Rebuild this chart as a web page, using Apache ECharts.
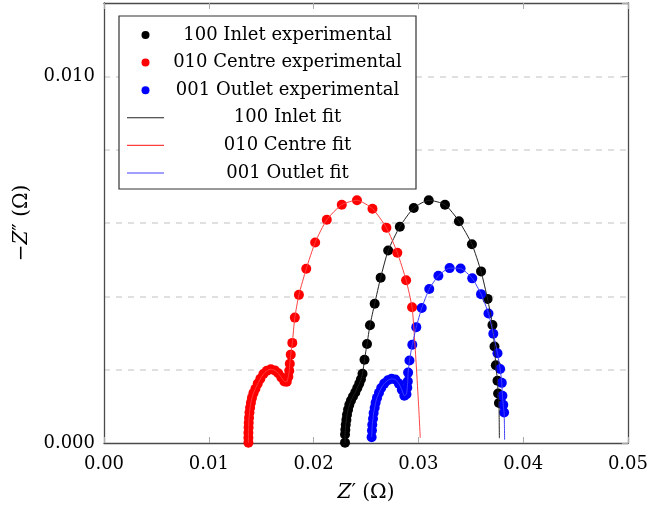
<!DOCTYPE html>
<html><head><meta charset="utf-8">
<script src="https://cdn.jsdelivr.net/npm/echarts@6/dist/echarts.min.js"></script>
<style>html,body{margin:0;padding:0;background:#fff}#c{width:651px;height:508px}</style>
</head><body><div id="c"></div><script>
// ---- data ----
const seriesNames = ['100 Inlet experimental','010 Centre experimental','001 Outlet experimental','100 Inlet fit','010 Centre fit','001 Outlet fit'];
const xTickLabels = ['0.00','0.01','0.02','0.03','0.04','0.05'];
const yTickLabels = ['0.000','0.010'];

const inletX = [0.02300,0.02300,0.02303,0.02307,0.02313,0.02319,0.02329,0.02341,0.02357,0.02376,0.02398,0.02417,0.02436,0.02452,0.02467,0.02486,0.02510,0.02538,0.02583,0.02640,0.02712,0.02823,0.02956,0.03099,0.03254,0.03387,0.03511,0.03598,0.03660,0.03707,0.03726,0.03739,0.03755,0.03761,0.03769];
const inletY = [0.00001,0.00023,0.00036,0.00050,0.00063,0.00077,0.00091,0.00104,0.00116,0.00127,0.00138,0.00150,0.00162,0.00174,0.00189,0.00227,0.00270,0.00321,0.00380,0.00451,0.00525,0.00590,0.00641,0.00662,0.00650,0.00605,0.00542,0.00468,0.00393,0.00322,0.00263,0.00212,0.00170,0.00135,0.00109];

const centreX = [0.01378,0.01378,0.01378,0.01380,0.01381,0.01384,0.01388,0.01394,0.01402,0.01412,0.01426,0.01445,0.01467,0.01492,0.01521,0.01554,0.01592,0.01630,0.01663,0.01692,0.01721,0.01744,0.01759,0.01768,0.01773,0.01782,0.01797,0.01821,0.01860,0.01930,0.02015,0.02126,0.02269,0.02414,0.02562,0.02695,0.02799,0.02883,0.02940];
const centreY = [0.00001,0.00014,0.00028,0.00042,0.00055,0.00069,0.00083,0.00096,0.00110,0.00123,0.00136,0.00148,0.00162,0.00175,0.00188,0.00197,0.00201,0.00198,0.00190,0.00179,0.00168,0.00167,0.00181,0.00197,0.00216,0.00241,0.00273,0.00342,0.00404,0.00475,0.00547,0.00609,0.00650,0.00662,0.00639,0.00587,0.00519,0.00444,0.00370];

const outletX = [0.02554,0.02557,0.02560,0.02567,0.02573,0.02583,0.02592,0.02605,0.02624,0.02645,0.02674,0.02709,0.02744,0.02780,0.02814,0.02842,0.02866,0.02886,0.02894,0.02899,0.02902,0.02915,0.02942,0.02980,0.03032,0.03104,0.03191,0.03298,0.03403,0.03514,0.03598,0.03669,0.03715,0.03755,0.03780,0.03796,0.03802,0.03810,0.03818];
const outletY = [0.00016,0.00034,0.00050,0.00066,0.00082,0.00096,0.00110,0.00123,0.00137,0.00150,0.00162,0.00171,0.00175,0.00173,0.00162,0.00145,0.00129,0.00133,0.00151,0.00168,0.00192,0.00225,0.00268,0.00316,0.00368,0.00420,0.00456,0.00477,0.00476,0.00449,0.00406,0.00353,0.00298,0.00245,0.00202,0.00164,0.00129,0.00104,0.00083];

// fit curves: follow the experimental points, then continue to these end points
const inletFitTailX = [0.03771,0.03773];
const inletFitTailY = [0.00070,0.00013];
const centreFitTailX = [0.02961,0.02980,0.03002,0.03018];
const centreFitTailY = [0.00295,0.00211,0.00104,0.00014];
const outletFitTailX = [0.03821,0.03823];
const outletFitTailY = [0.00050,0.00009];

// ---- build ----
const zip = (xs, ys) => xs.map((x, i) => [x, ys[i]]);
const FONT = 'DejaVu Serif';
const lblStyle = {fontFamily: FONT, fontSize: 18, color: '#000'};
const frame = {show: true, onZero: false, lineStyle: {color: '#4a4a4a', width: 1.3}};
const tickIn = {show: true, inside: true, length: 6, lineStyle: {color: '#aaa', width: 1}};
const LINE_ICON = 'path://M0,0H37V1.1H0Z';

const chart = echarts.init(document.getElementById('c'), null, {renderer: 'canvas'});
chart.setOption({
  animation: false,
  backgroundColor: '#fff',
  grid: {left: 104, top: 3, width: 526, height: 440, show: false},
  legend: {
    orient: 'vertical', left: 119, top: 16,
    padding: [10, 10, 7, 8],
    itemWidth: 37, itemHeight: 8, itemGap: 9.6,
    symbolKeepAspect: true,
    borderColor: '#333', borderWidth: 1.2, backgroundColor: '#fff',
    data: seriesNames.map((n, i) => ({name: n, icon: i < 3 ? 'circle' : LINE_ICON})),
    formatter: n => '{c|' + n + '}',
    textStyle: {rich: {c: {width: 237, align: 'center', fontFamily: FONT, fontSize: 18, lineHeight: 20, color: '#000'}}},
    z: 10
  },
  xAxis: [{
    type: 'value', min: 0, max: 0.05, interval: 0.01, position: 'bottom',
    axisLine: frame, axisTick: tickIn, splitLine: {show: false},
    axisLabel: Object.assign({margin: 12, formatter: v => xTickLabels[Math.round(v / 0.01)]}, lblStyle),
    name: '{i|Z}′ (Ω)', nameLocation: 'middle', nameGap: 40,
    nameTextStyle: {fontFamily: FONT, fontSize: 20, color: '#000', rich: {i: {fontFamily: FONT, fontStyle: 'italic', fontSize: 20, color: '#000'}}}
  }, {
    type: 'value', min: 0, max: 0.05, interval: 0.01, position: 'top',
    axisLine: frame, axisTick: tickIn, axisLabel: {show: false}, splitLine: {show: false}
  }],
  yAxis: [{
    type: 'value', min: 0, max: 0.012, interval: 0.002, position: 'left',
    axisLine: frame, axisTick: {show: false},
    splitLine: {show: true, showMinLine: false, showMaxLine: false, lineStyle: {color: '#d6d6d6', width: 1.5, type: [6, 6]}},
    axisLabel: Object.assign({margin: 9, formatter: v => {
      const k = Math.round(v / 0.01 * 1000) / 1000;
      if (k === 0) return yTickLabels[0];
      if (k === 1) return yTickLabels[1];
      return '';
    }}, lblStyle),
    name: '−{i|Z}″ (Ω)', nameLocation: 'middle', nameGap: 72,
    nameTextStyle: {fontFamily: FONT, fontSize: 20, color: '#000', rich: {i: {fontFamily: FONT, fontStyle: 'italic', fontSize: 20, color: '#000'}}}
  }, {
    type: 'value', min: 0, max: 0.012, interval: 0.01, position: 'right',
    axisLine: frame, axisTick: tickIn, axisLabel: {show: false}, splitLine: {show: false}
  }],
  series: [
    {name: seriesNames[0], type: 'scatter', data: zip(inletX, inletY), symbolSize: 10, itemStyle: {color: '#000', opacity: 1}},
    {name: seriesNames[1], type: 'scatter', data: zip(centreX, centreY), symbolSize: 10, itemStyle: {color: '#ff0000', opacity: 1}},
    {name: seriesNames[2], type: 'scatter', data: zip(outletX, outletY), symbolSize: 10, itemStyle: {color: '#0000ff', opacity: 1}},
    {name: seriesNames[3], type: 'line', symbol: 'none', smooth: 0.2, data: zip(inletX.concat(inletFitTailX), inletY.concat(inletFitTailY)), lineStyle: {color: '#222', width: 1}, itemStyle: {color: '#222'}},
    {name: seriesNames[4], type: 'line', symbol: 'none', smooth: 0.2, data: zip(centreX.concat(centreFitTailX), centreY.concat(centreFitTailY)), lineStyle: {color: '#ff4040', width: 1}, itemStyle: {color: '#ff4040'}},
    {name: seriesNames[5], type: 'line', symbol: 'none', smooth: 0.2, data: zip(outletX.concat(outletFitTailX), outletY.concat(outletFitTailY)), lineStyle: {color: '#4040ff', width: 1}, itemStyle: {color: '#4040ff'}}
  ]
});
</script></body></html>
